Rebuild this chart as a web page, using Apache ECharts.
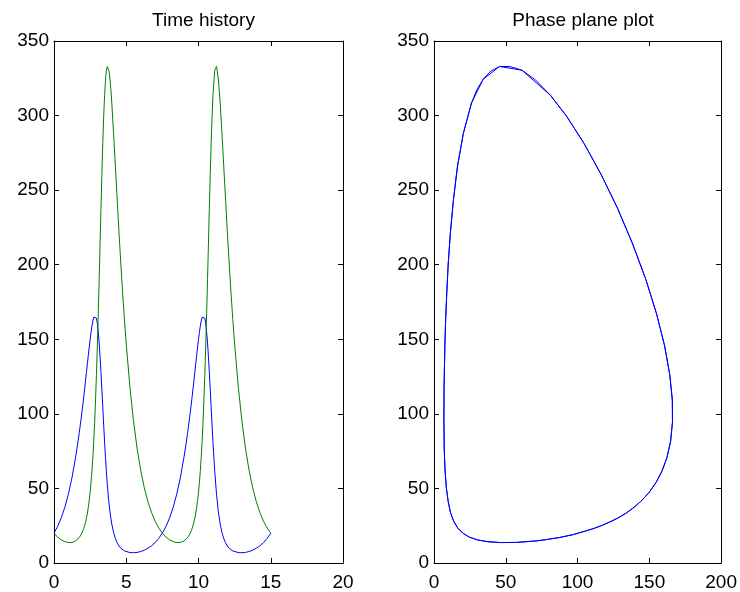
<!DOCTYPE html>
<html>
<head>
<meta charset="utf-8">
<script src="https://cdn.jsdelivr.net/npm/echarts@6/dist/echarts.min.js"></script>
<style>
html,body{margin:0;padding:0;background:#fff;}
#chart{width:740px;height:592px;}
</style>
</head>
<body>
<div id="chart"></div>
<script>
// Time samples (s)
var timeValues = [
  0, 0.25, 0.5, 0.75, 1.0, 1.25, 1.5, 1.625, 1.75, 1.875, 2.0,
  2.0625, 2.125, 2.1875, 2.25, 2.3125, 2.375, 2.4375, 2.5,
  2.5625, 2.625, 2.6875, 2.75, 2.8125, 2.875, 2.9375, 3.0,
  3.0625, 3.125, 3.1875, 3.25, 3.3125, 3.375, 3.4375, 3.5,
  3.5625, 3.625, 3.6875, 3.75, 3.8125, 3.875, 3.9375, 4.0,
  4.125, 4.25, 4.375, 4.5, 4.625, 4.75, 4.875, 5.0,
  5.25, 5.5, 5.75, 6.0, 6.25, 6.5, 6.75, 7.0, 7.25, 7.5,
  7.75, 8.0, 8.25, 8.5, 8.75, 9.0, 9.125, 9.25, 9.375, 9.5,
  9.5625, 9.625, 9.6875, 9.75, 9.8125, 9.875, 9.9375, 10.0,
  10.0625, 10.125, 10.1875, 10.25, 10.3125, 10.375, 10.4375, 10.5,
  10.5625, 10.625, 10.6875, 10.75, 10.8125, 10.875, 10.9375,
  11.0, 11.125, 11.25, 11.375, 11.5,
  11.625, 11.75, 11.875, 12.0, 12.125, 12.25, 12.375, 12.5,
  12.75, 13.0, 13.25, 13.5, 13.75, 14.0, 14.25, 14.5, 14.75, 15.0
];
// Prey population (blue)
var preyValues = [
  20, 24.5, 30.2, 37.4, 46.4, 57.5, 71.2, 79.0, 87.5, 96.7, 106.5,
  111.8, 117.2, 122.7, 128.3, 133.9, 139.4, 144.8, 149.9,
  154.6, 158.8, 162.3, 164.8, 166.1, 166.0, 164.2, 160.6,
  155.0, 147.6, 138.4, 127.9, 116.4, 104.5, 92.6, 81.3,
  70.8, 61.3, 52.9, 45.7, 39.5, 34.3, 29.9, 26.1,
  20.4, 16.3, 13.5, 11.4, 9.9, 8.9, 8.1, 7.6,
  7.0, 6.9, 7.1, 7.7, 8.6, 9.9, 11.5, 13.7, 16.5, 20.1,
  24.5, 30.2, 37.4, 46.4, 57.5, 71.2, 79.0, 87.5, 96.7, 106.5,
  111.8, 117.2, 122.7, 128.3, 133.9, 139.4, 144.8, 149.9,
  154.6, 158.8, 162.3, 164.8, 166.1, 166.0, 164.2, 160.6,
  155.0, 147.6, 138.4, 127.9, 116.4, 104.5, 92.6,
  81.3, 61.3, 45.7, 34.3, 26.1,
  20.4, 16.3, 13.5, 11.4, 9.9, 8.9, 8.1, 7.6,
  7.0, 6.9, 7.1, 7.7, 8.6, 9.9, 11.5, 13.7, 16.5, 20.0
];
// Predator population (green)
var predatorValues = [
  20, 17.4, 15.5, 14.3, 13.7, 13.8, 14.8, 15.8, 17.1, 19.0, 21.7,
  23.3, 25.3, 27.6, 30.3, 33.5, 37.4, 42.0, 47.4,
  53.9, 61.6, 70.8, 81.7, 94.4, 109.3, 126.4, 145.7,
  167.1, 190.0, 213.8, 237.7, 260.5, 281.3, 299.2, 313.4,
  323.8, 330.4, 332.9, 332.9, 329.8, 324.4, 317.4, 308.4,
  287.9, 265.6, 243.2, 221.3, 200.5, 181.0, 163.1, 146.7,
  118.4, 95.4, 76.9, 62.2, 50.4, 41.1, 33.8, 28.0, 23.5, 20.0,
  17.4, 15.5, 14.3, 13.7, 13.8, 14.8, 15.8, 17.1, 19.0, 21.7,
  23.3, 25.3, 27.6, 30.3, 33.5, 37.4, 42.0, 47.4,
  53.9, 61.6, 70.8, 81.7, 94.4, 109.3, 126.4, 145.7,
  167.1, 190.0, 213.8, 237.7, 260.5, 281.3, 299.2,
  313.4, 330.4, 332.9, 324.4, 308.4,
  287.9, 265.6, 243.2, 221.3, 200.5, 181.0, 163.1, 146.7,
  118.4, 95.4, 76.9, 62.2, 50.4, 41.1, 33.8, 28.0, 23.5, 20.0
];
var titles = ['Time history', 'Phase plane plot'];

var FONT = '"Liberation Sans", Arial, Helvetica, sans-serif';
var FS = 19;

function mainAxis(gridIndex, min, max, interval, pos) {
  return {
    type: 'value', gridIndex: gridIndex, min: min, max: max, interval: interval, position: pos,
    axisLine: { show: true, onZero: false, lineStyle: { color: '#000', width: 1 } },
    axisTick: { show: true, inside: true, length: 5, lineStyle: { color: '#000', width: 1 } },
    axisLabel: { show: true, color: '#000', fontFamily: FONT, fontSize: FS, margin: (pos === 'bottom' ? 10 : 5) },
    splitLine: { show: false }
  };
}
function mirrorAxis(gridIndex, min, max, interval, pos) {
  return {
    type: 'value', gridIndex: gridIndex, min: min, max: max, interval: interval, position: pos,
    axisLine: { show: true, onZero: false, lineStyle: { color: '#000', width: 1 } },
    axisTick: { show: true, inside: true, length: 5, lineStyle: { color: '#000', width: 1 } },
    axisLabel: { show: false },
    splitLine: { show: false }
  };
}

var timePrey = [], timePred = [], phase = [];
for (var i = 0; i < timeValues.length; i++) {
  timePrey.push([timeValues[i], preyValues[i]]);
  timePred.push([timeValues[i], predatorValues[i]]);
  phase.push([preyValues[i], predatorValues[i]]);
}

var chart = echarts.init(document.getElementById('chart'), null, { renderer: 'canvas' });
chart.setOption({
  animation: false,
  backgroundColor: '#fff',
  title: [
    { text: titles[0], left: 198.5, textAlign: 'center', top: 6,
      textStyle: { fontFamily: FONT, fontSize: FS, fontWeight: 'normal', color: '#000' } },
    { text: titles[1], left: 578, textAlign: 'center', top: 6,
      textStyle: { fontFamily: FONT, fontSize: FS, fontWeight: 'normal', color: '#000' } }
  ],
  grid: [
    { left: 54, top: 41, width: 289, height: 526, containLabel: false },
    { left: 434, top: 41, width: 288, height: 526, containLabel: false }
  ],
  xAxis: [
    mainAxis(0, 0, 20, 5, 'bottom'),
    mirrorAxis(0, 0, 20, 5, 'top'),
    mainAxis(1, 0, 200, 50, 'bottom'),
    mirrorAxis(1, 0, 200, 50, 'top')
  ],
  yAxis: [
    mainAxis(0, 0, 350, 50, 'left'),
    mirrorAxis(0, 0, 350, 50, 'right'),
    mainAxis(1, 0, 350, 50, 'left'),
    mirrorAxis(1, 0, 350, 50, 'right')
  ],
  series: [
    { type: 'line', xAxisIndex: 0, yAxisIndex: 0, data: timePrey, showSymbol: false, symbol: 'none',
      lineStyle: { color: '#0000ff', width: 1 }, itemStyle: { color: '#0000ff' } },
    { type: 'line', xAxisIndex: 0, yAxisIndex: 0, data: timePred, showSymbol: false, symbol: 'none',
      lineStyle: { color: '#008000', width: 1 }, itemStyle: { color: '#008000' } },
    { type: 'line', xAxisIndex: 2, yAxisIndex: 2, data: phase, showSymbol: false, symbol: 'none',
      lineStyle: { color: '#0000ff', width: 1 }, itemStyle: { color: '#0000ff' } }
  ]
});
</script>
</body>
</html>
